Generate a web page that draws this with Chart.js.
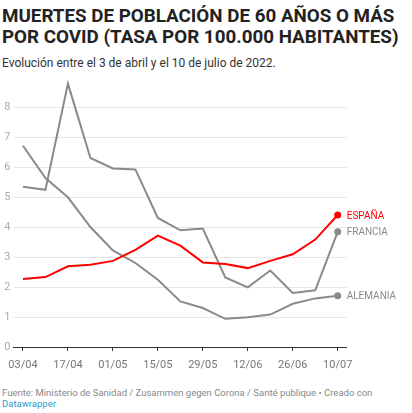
<!DOCTYPE html>
<html lang="es">
<head>
<meta charset="utf-8">
<script src="https://cdn.jsdelivr.net/npm/chart.js@4"></script>
<style>
  html, body { margin: 0; padding: 0; background: #fff; }
  body { width: 412px; height: 413px; position: relative; overflow: hidden; font-family: Roboto, "Noto Sans", sans-serif; }
  #title { position: absolute; left: 2px; top: 6px; font-size: 18.8px; line-height: 20.7px; font-weight: 700; color: #222; white-space: nowrap; }
  #sub { position: absolute; left: 2px; top: 56px; font-size: 12px; line-height: 15px; color: #333; white-space: nowrap; }
  #chart { position: absolute; left: 0; top: 70px; }
  #foot { position: absolute; left: 2px; top: 387px; font-size: 9.5px; line-height: 11px; color: #888; }
  #foot a { color: #1d9bd1; text-decoration: none; }
</style>
</head>
<body>
<div id="title">MUERTES DE POBLACIÓN DE 60 AÑOS O MÁS<br>POR COVID (TASA POR 100.000 HABITANTES)</div>
<div id="sub">Evolución entre el 3 de abril y el 10 de julio de 2022.</div>
<canvas id="chart" width="412" height="307"></canvas>
<div id="foot">Fuente: Ministerio de Sanidad / Zusammen gegen Corona / Santé publique • Creado con<br><a>Datawrapper</a></div>
<script>
// semanas (domingos) entre 03/04 y 10/07
const weeks = ["03/04", "10/04", "17/04", "24/04", "01/05", "08/05", "15/05", "22/05",
  "29/05", "05/06", "12/06", "19/06", "26/06", "03/07", "10/07"];
const tickWeeks = [0, 2, 4, 6, 8, 10, 12, 14];
const yTicks = [0, 1, 2, 3, 4, 5, 6, 7, 8];

const espana = [2.27, 2.33, 2.69, 2.74, 2.87, 3.24, 3.71, 3.38, 2.82, 2.77, 2.63, 2.87, 3.09, 3.58, 4.40];
const francia = [5.34, 5.24, 8.78, 6.30, 5.95, 5.92, 4.30, 3.89, 3.95, 2.32, 1.99, 2.55, 1.80, 1.89, 3.84];
const alemania = [6.71, 5.63, 4.99, 4.00, 3.22, 2.80, 2.24, 1.52, 1.30, 0.94, 0.99, 1.08, 1.44, 1.62, 1.71];

const seriesNames = ["ESPAÑA", "FRANCIA", "ALEMANIA"];
const seriesColors = ["#ff0000", "#8a8a8a", "#8a8a8a"];

const last = weeks.length - 1;
const toPoints = (vals) => vals.map((v, i) => ({ x: i, y: v }));

const endLabels = {
  id: "endLabels",
  afterDatasetsDraw(chart) {
    const ctx = chart.ctx;
    ctx.save();
    ctx.font = "10px Roboto";
    ctx.textBaseline = "middle";
    ctx.textAlign = "left";
    chart.data.datasets.forEach((ds, i) => {
      const pt = chart.getDatasetMeta(i).data[last];
      ctx.fillStyle = seriesColors[i];
      ctx.fillText(seriesNames[i], pt.x + 9, pt.y + 1);
    });
    ctx.restore();
  },
};

new Chart(document.getElementById("chart"), {
  type: "line",
  data: {
    datasets: [espana, francia, alemania].map((vals, i) => ({
      label: seriesNames[i],
      data: toPoints(vals),
      borderColor: seriesColors[i],
      backgroundColor: seriesColors[i],
      borderWidth: 2,
      tension: 0,
      pointRadius: (c) => (c.dataIndex === last ? 3.5 : 0),
      pointBorderWidth: 0,
    })),
  },
  options: {
    responsive: false,
    animation: false,
    events: [],
    layout: { padding: { left: 2.5, right: 65.3, top: 7, bottom: 0 } },
    plugins: { legend: { display: false }, tooltip: { enabled: false } },
    scales: {
      x: {
        type: "linear",
        min: -0.4,
        max: 14.4,
        afterBuildTicks: (s) => { s.ticks = tickWeeks.map((v) => ({ value: v })); },
        afterFit: (s) => { s.height = 30; },
        ticks: {
          callback: (v) => weeks[v],
          color: "#777",
          font: { family: "Roboto", size: 11 },
          padding: 8,
          maxRotation: 0,
          autoSkip: false,
        },
        grid: { drawOnChartArea: false, drawTicks: true, tickLength: 4, color: "#333" },
        border: { display: true, color: "#333", width: 1 },
      },
      y: {
        min: 0,
        max: 9,
        afterBuildTicks: (s) => { s.ticks = yTicks.map((v) => ({ value: v })); },
        afterFit: (s) => { s.width = 9.8; },
        ticks: {
          color: "#aaa",
          font: { family: "Roboto", size: 11 },
          crossAlign: "far",
          padding: 0,
        },
        grid: {
          drawTicks: false,
          color: (c) => (c.tick.value === 0 ? "rgba(0,0,0,0)" : "#e6e6e6"),
        },
        border: { display: false },
      },
    },
  },
  plugins: [endLabels],
});
</script>
</body>
</html>
